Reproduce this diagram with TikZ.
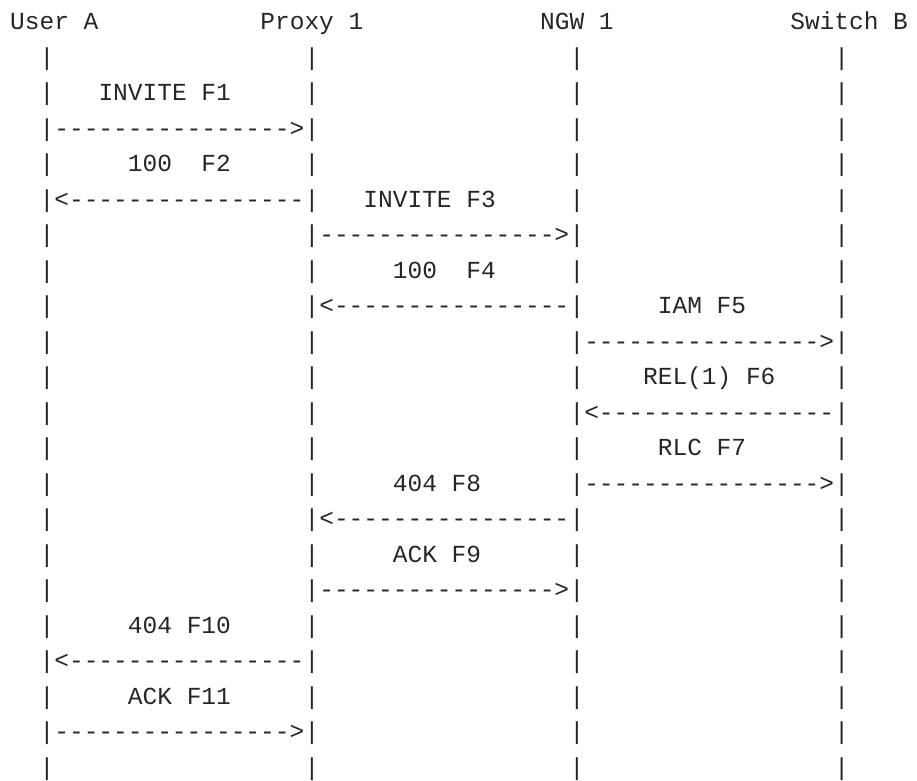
\documentclass[tikz,border=0pt]{standalone}
\usepackage{fontspec}
\newfontfamily\flowfont{Liberation Mono}
\newcommand{\torightmsg}{---------------->}
\newcommand{\toleftmsg}{<----------------}
\begin{document}
\begin{tikzpicture}[x=14.72pt,y=-35.5pt,
    every node/.style={inner sep=0pt,anchor=base west,text=black!85,
        font=\flowfont\fontsize{24.5}{30}\selectfont}]
    \useasboundingbox (-0.68,-0.845) rectangle (61.62,21.13);
    % parties
    \node (userA) at (0,0) {User A};
    \node (proxy1) at (17,0) {Proxy 1};
    \node (ngw1) at (36,0) {NGW 1};
    \node (switchB) at (53,0) {Switch B};
    % lifelines
    \foreach \c in {2,20,38,56}
        \foreach \r in {1,...,21}
            \node (bar\c-\r) at (\c,\r) {|};
    % messages
    \node (lblF1) at (6,2) {INVITE F1};
    \node (msgF1) at (3,3) {\torightmsg};
    \node (lblF2) at (8,4) {100\ \ F2};
    \node (msgF2) at (3,5) {\toleftmsg};
    \node (lblF3) at (24,5) {INVITE F3};
    \node (msgF3) at (21,6) {\torightmsg};
    \node (lblF4) at (26,7) {100\ \ F4};
    \node (msgF4) at (21,8) {\toleftmsg};
    \node (lblF5) at (44,8) {IAM F5};
    \node (msgF5) at (39,9) {\torightmsg};
    \node (lblF6) at (43,10) {REL(1) F6};
    \node (msgF6) at (39,11) {\toleftmsg};
    \node (lblF7) at (44,12) {RLC F7};
    \node (msgF7) at (39,13) {\torightmsg};
    \node (lblF8) at (26,13) {404 F8};
    \node (msgF8) at (21,14) {\toleftmsg};
    \node (lblF9) at (26,15) {ACK F9};
    \node (msgF9) at (21,16) {\torightmsg};
    \node (lblF10) at (8,17) {404 F10};
    \node (msgF10) at (3,18) {\toleftmsg};
    \node (lblF11) at (8,19) {ACK F11};
    \node (msgF11) at (3,20) {\torightmsg};
\end{tikzpicture}
\end{document}
